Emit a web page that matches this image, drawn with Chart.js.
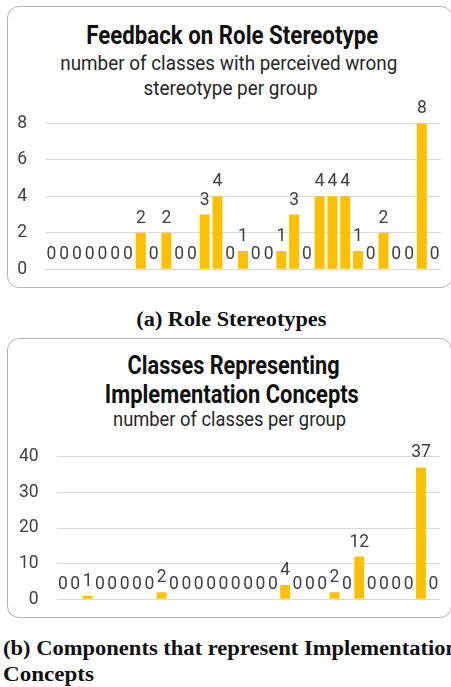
<!DOCTYPE html>
<html>
<head>
<meta charset="utf-8">
<script src="https://cdn.jsdelivr.net/npm/chart.js@4.4.1/dist/chart.umd.min.js"></script>
<style>
  html, body { margin: 0; padding: 0; background: #fff; }
  body { position: relative; width: 451px; height: 687px; overflow: hidden; }
  .box { position: absolute; box-sizing: border-box; border: 1.3px solid #b3b3b3; border-radius: 12px; }
  .t { position: absolute; white-space: nowrap; margin: 0; }
  canvas { position: absolute; left: 0; }
</style>
</head>
<body>
<div class="box" style="left:7px; top:6px; width:446px; height:282px;"></div>
<div class="box" style="left:7px; top:338px; width:445px; height:280px;"></div>

<div class="t" id="title1">Feedback on Role Stereotype</div>
<div class="t" id="sub1a">number of classes with perceived wrong</div>
<div class="t" id="sub1b">stereotype per group</div>
<canvas id="chart1" width="451" height="182" style="top:100px; width:451px; height:182px;"></canvas>

<div class="t" id="capA">(a) Role Stereotypes</div>

<div class="t" id="title2a">Classes Representing</div>
<div class="t" id="title2b">Implementation Concepts</div>
<div class="t" id="sub2">number of classes per group</div>
<canvas id="chart2" width="451" height="182" style="top:430px; width:451px; height:182px;"></canvas>

<div class="t" id="capB1">(b) Components that represent Implementation</div>
<div class="t" id="capB2">Concepts</div>

<script>
// Groups along the x axis (not labelled on the chart)
const groups = ['1','2','3','4','5','6','7','8','9','10','11','12','13','14','15','16',
                '17','18','19','20','21','22','23','24','25','26','27','28','29','30','31'];

// Classes with a perceived wrong role stereotype, per group
const stereotypeCounts = [0,0,0,0,0,0,0,2,0,2,0,0,3,4,0,1,0,0,1,3,0,4,4,4,1,0,2,0,0,8,0];

// Classes representing implementation concepts, per group
const implementationCounts = [0,0,1,0,0,0,0,0,2,0,0,0,0,0,0,0,0,0,4,0,0,0,2,0,12,0,0,0,0,37,0];

// Y axis tick settings
const stereotypeTicks = { min: 0, max: 8, step: 2 };
const implementationTicks = { min: 0, max: 40, step: 10 };

const BAR_COLOR = '#FFC000';
const GRID_COLOR = '#d9d9d9';
const TEXT_COLOR = '#404040';
const LABEL_FONT = '17.5px Roboto';

// ---- text placement for headings and captions ----
const mctx = document.createElement('canvas').getContext('2d');
function place(id, font, color, x, baseline, opts) {
  opts = opts || {};
  const el = document.getElementById(id);
  mctx.font = font;
  const m = mctx.measureText(el.textContent);
  const fs = parseFloat(font.match(/([\d.]+)px/)[1]);
  const asc = m.fontBoundingBoxAscent, desc = m.fontBoundingBoxDescent;
  el.style.font = font;
  el.style.color = color;
  el.style.lineHeight = fs + 'px';
  el.style.top = (baseline - ((fs - (asc + desc)) / 2 + asc)) + 'px';
  const k = opts.k || (opts.width ? opts.width / m.width : 1);
  if (opts.align === 'left') {
    el.style.left = x + 'px';
    el.style.transformOrigin = '0 0';
  } else {
    el.style.left = (x - m.width / 2) + 'px';
    el.style.transformOrigin = (m.width / 2) + 'px 0';
  }
  el.style.transform = 'scaleX(' + k + ')';
  return k;
}

// headings use a narrowed Roboto
const TITLE_FONT = 'bold 25.5px Roboto';
const SUB_FONT = '21px Roboto';
const CAP_FONT = 'bold 20px "Liberation Serif"';

place('title1', TITLE_FONT, '#111', 232, 44.3, { width: 292 });
place('sub1a', SUB_FONT, '#262626', 228.5, 70.7, { width: 337 });
place('sub1b', SUB_FONT, '#262626', 231, 95, { width: 174 });
place('capA', CAP_FONT, '#111', 231, 326, { width: 190 });
place('title2a', TITLE_FONT, '#111', 234, 375, { width: 212 });
place('title2b', TITLE_FONT, '#111', 232, 403.3, { width: 254 });
place('sub2', SUB_FONT, '#262626', 229.5, 426.7, { width: 233 });
place('capB1', CAP_FONT, '#111', 2.7, 655, { align: 'left', width: 455 });
place('capB2', CAP_FONT, '#111', 2.7, 681, { align: 'left', width: 91 });

// ---- value labels drawn above every bar ----
const valueLabels = {
  id: 'valueLabels',
  afterDatasetsDraw(chart) {
    const ctx = chart.ctx;
    const meta = chart.getDatasetMeta(0);
    const values = chart.data.datasets[0].data;
    ctx.save();
    ctx.font = LABEL_FONT;
    ctx.fillStyle = TEXT_COLOR;
    ctx.textAlign = 'center';
    ctx.textBaseline = 'alphabetic';
    meta.data.forEach((bar, i) => {
      ctx.fillText(String(values[i]), bar.x, bar.y - 10);
    });
    ctx.restore();
  }
};

function makeChart(canvasId, values, ticks, axisWidth, padTop, padRight, barPct) {
  return new Chart(document.getElementById(canvasId), {
    type: 'bar',
    data: {
      labels: groups,
      datasets: [{
        data: values,
        backgroundColor: BAR_COLOR,
        borderWidth: 0,
        barPercentage: barPct,
        categoryPercentage: 1.0
      }]
    },
    options: {
      responsive: false,
      animation: false,
      events: [],
      layout: { padding: { top: padTop, bottom: 12.7, left: 0, right: padRight } },
      plugins: { legend: { display: false }, tooltip: { enabled: false }, title: { display: false } },
      scales: {
        x: { display: false },
        y: {
          min: ticks.min,
          max: ticks.max,
          afterFit(scale) {
            // fixed axis width; the layout padding alone decides the plot's top and bottom
            scale.width = axisWidth;
            scale.paddingTop = 0;
            scale.paddingBottom = 0;
          },
          border: { display: false },
          grid: { color: GRID_COLOR, lineWidth: 1, drawTicks: false },
          ticks: {
            stepSize: ticks.step,
            padding: 18,
            color: TEXT_COLOR,
            font: { family: 'Roboto', size: 17.5 }
          }
        }
      }
    },
    plugins: [valueLabels]
  });
}

makeChart('chart1', stereotypeCounts, stereotypeTicks, 45, 23.3, 10, 0.78);
makeChart('chart2', implementationCounts, implementationTicks, 56.7, 26.7, 11.5, 0.8);
</script>
</body>
</html>
